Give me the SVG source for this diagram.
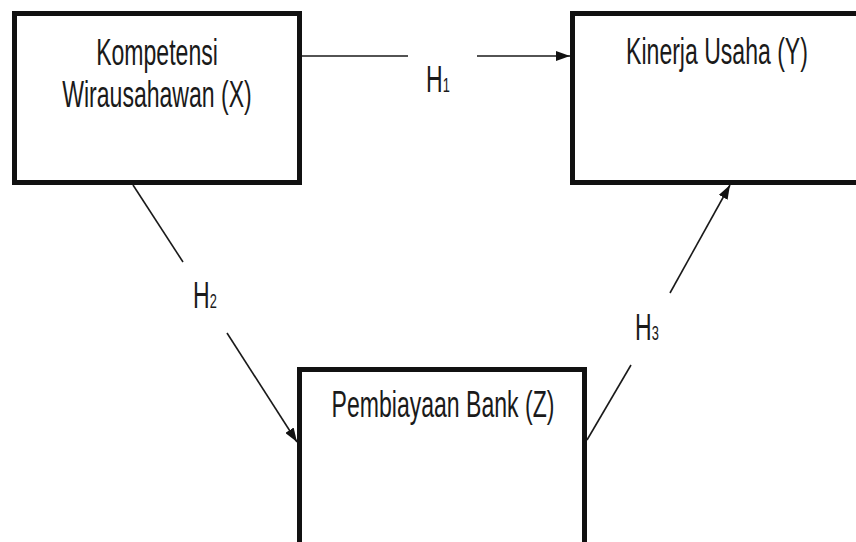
<svg xmlns="http://www.w3.org/2000/svg" width="856" height="542" viewBox="0 0 856 542">
  <defs>
    <marker id="arrow" viewBox="0 0 14 10" refX="14" refY="5" markerWidth="14" markerHeight="10" markerUnits="userSpaceOnUse" orient="auto">
      <path d="M0,0 L14,5 L0,10 Z" fill="#111"/>
    </marker>
  </defs>
  <style>
    .box { fill: #fff; stroke: #111; stroke-width: 5; }
    .lbl { font-family: "Liberation Sans", Arial, sans-serif; font-size: 36px; fill: #1a1a1a; text-anchor: middle; }
    .hyp { font-family: "Liberation Sans", Arial, sans-serif; font-size: 36px; fill: #1a1a1a; }
    .sub { font-size: 20px; }
    .edge { stroke: #1a1a1a; stroke-width: 1.6; fill: none; }
  </style>
  <rect width="856" height="542" fill="#fff"/>

  <g id="node-x">
    <rect class="box" x="14.5" y="13.5" width="285" height="169"/>
    <g transform="translate(157,65) scale(0.64,1)"><text class="lbl">Kompetensi</text></g>
    <g transform="translate(157,107) scale(0.64,1)"><text class="lbl">Wirausahawan (X)</text></g>
  </g>

  <g id="node-y">
    <rect class="box" x="572.5" y="13.5" width="300" height="169"/>
    <g transform="translate(717,64) scale(0.64,1)"><text class="lbl">Kinerja Usaha (Y)</text></g>
  </g>

  <g id="node-z">
    <rect class="box" x="299.5" y="369.5" width="285" height="200"/>
    <g transform="translate(443,417) scale(0.64,1)"><text class="lbl">Pembiayaan Bank (Z)</text></g>
  </g>

  <g id="connectors">
    <line class="edge" x1="302" y1="56" x2="408" y2="56"/>
    <line class="edge" x1="477" y1="56" x2="570" y2="56" marker-end="url(#arrow)"/>
    <line class="edge" x1="133" y1="185" x2="183" y2="262"/>
    <line class="edge" x1="227" y1="333" x2="297" y2="442" marker-end="url(#arrow)"/>
    <line class="edge" x1="587" y1="440" x2="631" y2="365"/>
    <line class="edge" x1="670" y1="293" x2="730" y2="185" marker-end="url(#arrow)"/>
  </g>

  <g id="labels">
    <g transform="translate(426,92) scale(0.64,1)"><text class="hyp">H<tspan class="sub">1</tspan></text></g>
    <g transform="translate(193,308) scale(0.64,1)"><text class="hyp">H<tspan class="sub">2</tspan></text></g>
    <g transform="translate(635,340) scale(0.64,1)"><text class="hyp">H<tspan class="sub">3</tspan></text></g>
  </g>
</svg>
